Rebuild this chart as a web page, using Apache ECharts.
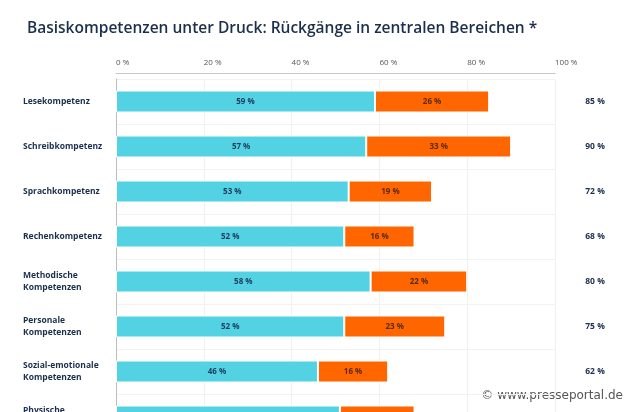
<!DOCTYPE html>
<html>
<head>
<meta charset="utf-8">
<script src="https://cdn.jsdelivr.net/npm/echarts@6/dist/echarts.min.js"></script>
<style>
  html, body { margin: 0; padding: 0; background: #fff; }
  #chart { width: 630px; height: 412px; }
</style>
</head>
<body>
<div id="chart"></div>
<script>
// Daten
var categories = [
  'Lesekompetenz',
  'Schreibkompetenz',
  'Sprachkompetenz',
  'Rechenkompetenz',
  'Methodische\nKompetenzen',
  'Personale\nKompetenzen',
  'Sozial-emotionale\nKompetenzen',
  'Physische\nKompetenzen'
]
var valuesBlue = [59, 57, 53, 52, 58, 52, 46, 51]
var valuesOrange = [26, 33, 19, 16, 22, 23, 16, 17]
var totals = [85, 90, 72, 68, 80, 75, 62, 68]

var navy = '#1b2f4b'
var fontFamily = '"Open Sans", sans-serif'

var chart = echarts.init(document.getElementById('chart'))
chart.setOption(getOptions())

function getOptions () {
  return {
    backgroundColor: '#fff',
    animation: false,
    title: {
      text: 'Basiskompetenzen unter Druck: Rückgänge in zentralen Bereichen *',
      left: 22,
      top: 16,
      textStyle: {
        color: navy,
        fontFamily: fontFamily,
        fontSize: 15.5,
        fontWeight: 600
      }
    },
    grid: {
      left: 116,
      top: 79,
      width: 439,
      height: 360,
      containLabel: false,
      outerBoundsMode: 'none'
    },
    xAxis: {
      type: 'value',
      position: 'top',
      min: 0,
      max: 100,
      interval: 20,
      offset: 6,
      axisLine: { show: true, lineStyle: { color: '#c8c8c8', width: 1 } },
      axisTick: { show: false },
      axisLabel: {
        align: 'left',
        margin: 6,
        fontSize: 8,
        color: '#555',
        fontFamily: fontFamily,
        formatter: '{value} %'
      },
      splitLine: { show: true, lineStyle: { color: '#f0f0f0', width: 1 } }
    },
    yAxis: [{
      type: 'category',
      inverse: true,
      data: categories,
      axisLine: { show: true, lineStyle: { color: '#bdbdbd', width: 1 } },
      axisTick: { show: false },
      splitLine: { show: true, lineStyle: { color: '#f2f2f2', width: 1 } },
      axisLabel: {
        align: 'left',
        margin: 93,
        fontSize: 8.5,
        fontWeight: 'bold',
        lineHeight: 12,
        color: navy,
        fontFamily: fontFamily
      }
    }, {
      type: 'category',
      inverse: true,
      position: 'right',
      data: totals,
      axisLine: { show: false },
      axisTick: { show: false },
      axisLabel: {
        align: 'center',
        margin: 40,
        fontSize: 8.5,
        fontWeight: 'bold',
        color: navy,
        fontFamily: fontFamily,
        formatter: function (v) {
          return v + ' %'
        }
      }
    }],
    series: [{
      name: 'blau',
      type: 'bar',
      stack: 'gesamt',
      barWidth: 22,
      data: valuesBlue,
      itemStyle: { color: '#52d2e3', borderColor: '#fff', borderWidth: 1 },
      label: {
        show: true,
        position: 'inside',
        fontSize: 8,
        fontWeight: 'bold',
        color: '#1d3b5a',
        fontFamily: fontFamily,
        formatter: '{c} %'
      }
    }, {
      name: 'orange',
      type: 'bar',
      stack: 'gesamt',
      barWidth: 22,
      data: valuesOrange,
      itemStyle: { color: '#ff6600', borderColor: '#fff', borderWidth: 1 },
      label: {
        show: true,
        position: 'inside',
        fontSize: 8,
        fontWeight: 'bold',
        color: '#5a2a0a',
        fontFamily: fontFamily,
        formatter: '{c} %'
      }
    }],
    graphic: [{
      type: 'text',
      right: 6,
      bottom: 9,
      style: {
        text: '© www.presseportal.de',
        fill: '#555',
        stroke: '#fff',
        lineWidth: 2,
        font: '12px "DejaVu Sans", sans-serif'
      }
    }]
  }
}
</script>
</body>
</html>
